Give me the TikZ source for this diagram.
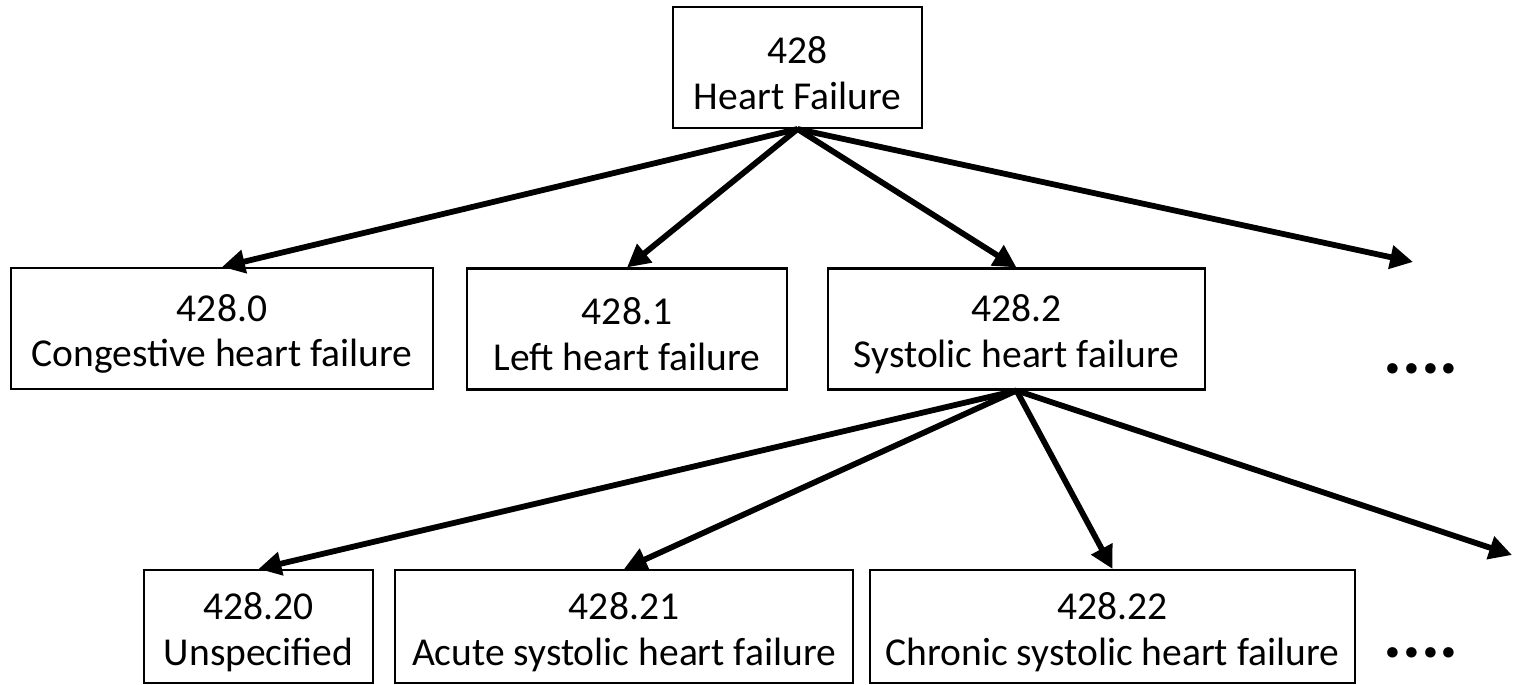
\documentclass[tikz,border=0pt]{standalone}
\usepackage{fontspec}
\setmainfont{Carlito}
\usetikzlibrary{arrows.meta}
\newcommand{\lowstrut}{\rule{0pt}{21.5pt}}
\begin{document}
\begin{tikzpicture}[x=0.02cm,y=-0.02cm,
  box/.style={draw=black,line width=1.2pt,align=center,inner sep=0pt,
    font=\fontsize{22.5}{26}\selectfont},
  link/.style={line width=3.3pt,-{Triangle[length=13pt,width=13pt]}},
  more/.style={inner sep=0pt,font=\fontsize{40}{40}\bfseries\selectfont}]
\useasboundingbox (0,0) rectangle (1514,685);
\node[box,minimum width=4.98cm,minimum height=2.42cm] (top) at (797.5,67.5) {\lowstrut 428\\Heart Failure};
\node[box,minimum width=8.44cm,minimum height=2.42cm] (n0) at (222,328.5) {\lowstrut 428.0\\Congestive heart failure};
\node[box,minimum width=6.4cm,minimum height=2.42cm] (n1) at (627,329) {\lowstrut 428.1\\Left heart failure};
\node[box,minimum width=7.54cm,minimum height=2.42cm] (n2) at (1016.5,329) {\lowstrut 428.2\\Systolic heart failure};
\node[box,minimum width=4.58cm,minimum height=2.26cm] (n20) at (258.5,626.5) {\lowstrut 428.20\\Unspecified};
\node[box,minimum width=9.16cm,minimum height=2.26cm] (n21) at (624,626.5) {\lowstrut 428.21\\Acute systolic heart failure};
\node[box,minimum width=9.7cm,minimum height=2.26cm] (n22) at (1112.5,626.5) {\lowstrut 428.22\\Chronic systolic heart failure};
\node[more] (d1) at (1421,369) {....};
\node[more] (d2) at (1421,653) {....};
\coordinate (e1) at (1413,262);
\coordinate (e2) at (1512,555);
\draw[link] (top.south) -- (n0.north);
\draw[link] (top.south) -- (n1.north);
\draw[link] (top.south) -- (n2.north);
\draw[link] (top.south) -- (e1);
\draw[link] (n2.south) -- (n20.north);
\draw[link] (n2.south) -- (n21.north);
\draw[link] (n2.south) -- (n22.north);
\draw[link] (n2.south) -- (e2);
\end{tikzpicture}
\end{document}
